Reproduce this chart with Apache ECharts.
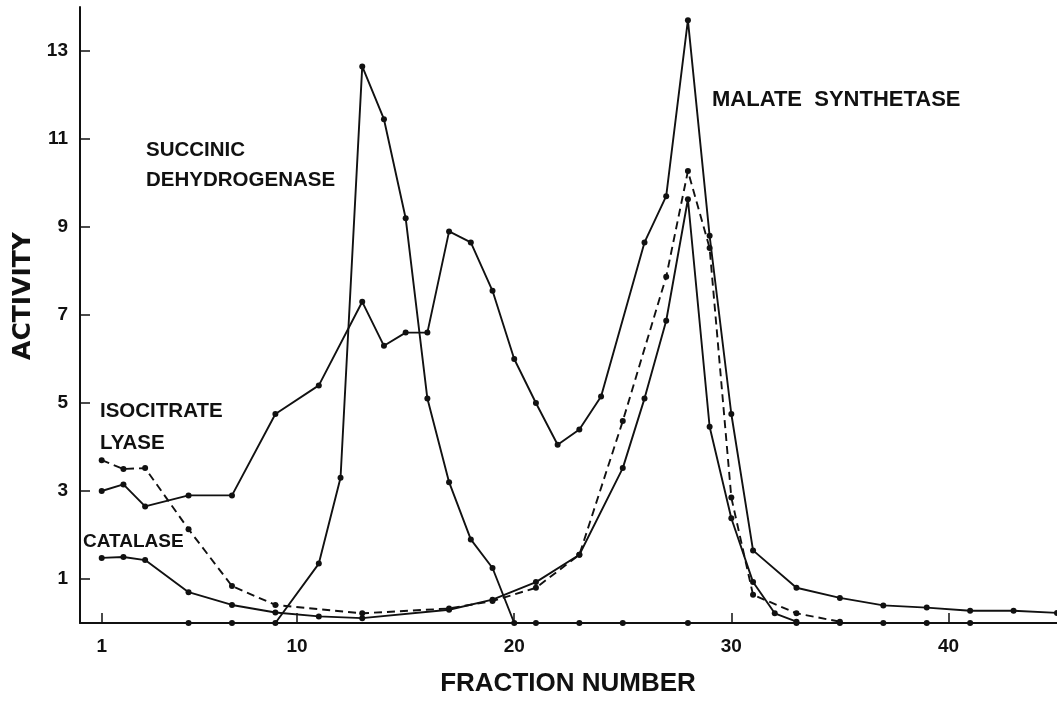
<!DOCTYPE html>
<html>
<head>
    <meta charset="utf-8">
    <title>Activity vs fraction number</title>
    <script src="https://cdn.jsdelivr.net/npm/echarts/dist/echarts.min.js"></script>
    <style>
        html, body { margin: 0; padding: 0; background: #fff; }
    </style>
</head>
<body>
    <div id="main" style="width: 1057px;height:707px;"></div>
    <script type="text/javascript">
        // values, per series: fraction numbers and activity
        var malateFrac = [1, 2, 3, 5, 7, 9, 11, 13, 14, 15, 16, 17, 18, 19, 20, 21, 22, 23, 24, 26, 27, 28, 29, 30, 31, 33, 35, 37, 39, 41, 43, 45];
        var malateVal = [3.0, 3.15, 2.65, 2.9, 2.9, 4.75, 5.4, 7.3, 6.3, 6.6, 6.6, 8.9, 8.65, 7.55, 6.0, 5.0, 4.05, 4.4, 5.15, 8.65, 9.7, 13.7, 8.8, 4.75, 1.65, 0.8, 0.57, 0.4, 0.35, 0.28, 0.28, 0.23];

        var succinicFrac = [5, 7, 9, 11, 12, 13, 14, 15, 16, 17, 18, 19, 20, 21, 23, 25, 28, 33, 35, 37, 39, 41];
        var succinicVal = [0, 0, 0, 1.35, 3.3, 12.65, 11.45, 9.2, 5.1, 3.2, 1.9, 1.25, 0, 0, 0, 0, 0, 0, 0, 0, 0, 0];

        var catalaseFrac = [1, 2, 3, 5, 7, 9, 11, 13, 17, 19, 21, 23, 25, 26, 27, 28, 29, 30, 31, 32, 33];
        var catalaseVal = [1.48, 1.5, 1.43, 0.7, 0.41, 0.24, 0.15, 0.11, 0.3, 0.53, 0.93, 1.55, 3.52, 5.1, 6.87, 9.63, 4.46, 2.38, 0.93, 0.22, 0.03];

        var isocitrateFrac = [1, 2, 3, 5, 7, 9, 13, 17, 19, 21, 23, 25, 27, 28, 29, 30, 31, 33, 35];
        var isocitrateVal = [3.7, 3.5, 3.52, 2.13, 0.84, 0.41, 0.22, 0.33, 0.5, 0.8, 1.55, 4.59, 7.87, 10.27, 8.52, 2.85, 0.64, 0.22, 0.03];

        var yTicks = [1, 3, 5, 7, 9, 11, 13];
        var xTicks = [1, 10, 20, 30, 40];

        function pairs(xs, ys) {
            return xs.map(function (x, i) { return [x, ys[i]]; });
        }

        var ink = '#111';
        var labelFont = 'Liberation Sans, DejaVu Sans, sans-serif';
        var wideFont = 'DejaVu Sans, sans-serif';

        function lineSeries(name, data, dashed) {
            return {
                name: name,
                type: 'line',
                data: data,
                symbol: 'circle',
                symbolSize: 6,
                itemStyle: { color: ink },
                lineStyle: { color: ink, width: 1.9, type: dashed ? [8, 5] : 'solid' },
                clip: false,
                z: 3
            };
        }

        var myChart = echarts.init(document.getElementById('main'));

        var option = {
            animation: false,
            backgroundColor: '#fff',
            grid: { left: 80, right: 0, top: 7, bottom: 84, containLabel: false },
            xAxis: {
                type: 'value',
                min: 0,
                max: 45,
                splitLine: { show: false },
                axisLine: { onZero: false, lineStyle: { color: ink, width: 2 } },
                axisTick: { inside: true, length: 10, customValues: xTicks, lineStyle: { color: ink, width: 1.5 } },
                axisLabel: { customValues: xTicks, color: ink, fontFamily: labelFont, fontWeight: 'bold', fontSize: 19, margin: 14 }
            },
            yAxis: {
                type: 'value',
                min: 0,
                max: 14,
                splitLine: { show: false },
                axisLine: { show: true, lineStyle: { color: ink, width: 2 } },
                axisTick: { show: true, inside: true, length: 10, customValues: yTicks, lineStyle: { color: ink, width: 1.5 } },
                axisLabel: { customValues: yTicks, color: ink, fontFamily: labelFont, fontWeight: 'bold', fontSize: 19, margin: 12 }
            },
            graphic: [
                { type: 'text', x: 23, y: 296, rotation: Math.PI / 2,
                  style: { text: 'ACTIVITY', fill: ink, font: 'bold 25px ' + wideFont, textAlign: 'center', textVerticalAlign: 'middle' } },
                { type: 'text', x: 568, y: 684,
                  style: { text: 'FRACTION NUMBER', fill: ink, font: 'bold 26px ' + labelFont, textAlign: 'center', textVerticalAlign: 'middle' } },
                { type: 'text', x: 146, y: 140,
                  style: { text: 'SUCCINIC', fill: ink, font: 'bold 20.5px ' + labelFont, textVerticalAlign: 'top' } },
                { type: 'text', x: 146, y: 170,
                  style: { text: 'DEHYDROGENASE', fill: ink, font: 'bold 20.5px ' + labelFont, textVerticalAlign: 'top' } },
                { type: 'text', x: 712, y: 89,
                  style: { text: 'MALATE  SYNTHETASE', fill: ink, font: 'bold 22px ' + labelFont, textVerticalAlign: 'top' } },
                { type: 'text', x: 100, y: 401,
                  style: { text: 'ISOCITRATE', fill: ink, font: 'bold 20.5px ' + labelFont, textVerticalAlign: 'top' } },
                { type: 'text', x: 100, y: 433,
                  style: { text: 'LYASE', fill: ink, font: 'bold 20.5px ' + labelFont, textVerticalAlign: 'top' } },
                { type: 'text', x: 83, y: 532,
                  style: { text: 'CATALASE', fill: ink, font: 'bold 19px ' + labelFont, textVerticalAlign: 'top' } }
            ],
            series: [
                lineSeries('Malate synthetase', pairs(malateFrac, malateVal), false),
                lineSeries('Succinic dehydrogenase', pairs(succinicFrac, succinicVal), false),
                lineSeries('Catalase', pairs(catalaseFrac, catalaseVal), false),
                lineSeries('Isocitrate lyase', pairs(isocitrateFrac, isocitrateVal), true)
            ]
        };

        myChart.setOption(option);
    </script>
</body>
</html>
